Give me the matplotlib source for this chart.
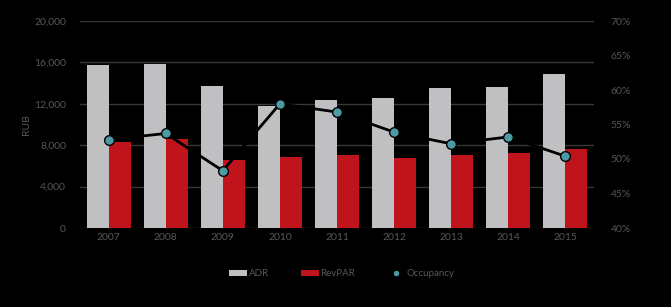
import numpy as np
import matplotlib
matplotlib.use("Agg")
import matplotlib.pyplot as plt
from matplotlib.lines import Line2D

years = ['2007', '2008', '2009', '2010', '2011', '2012', '2013', '2014', '2015']
adr = [15750, 15800, 13700, 11800, 12400, 12550, 13500, 13600, 14900]
revpar = [8300, 8600, 6550, 6850, 7050, 6750, 7050, 7250, 7600]
occupancy = [52.8, 53.7, 48.3, 58.0, 56.8, 53.9, 52.2, 53.2, 50.4]

plt.rcParams['font.family'] = ['Lato', 'DejaVu Sans']
txt = '#575757'

fig = plt.figure(figsize=(6.71, 3.07), dpi=100, facecolor='black')
ax = fig.add_axes([80 / 671, 1 - 228 / 307, 514 / 671, 207 / 307])
ax.set_facecolor('black')

x = np.arange(len(years))
w = 0.385
ax.bar(x - w / 2, adr, w, color='#c0c0c2', label='ADR', zorder=2)
ax.bar(x + w / 2, revpar, w, color='#c0141c', label='RevPAR', zorder=2)

ax.set_xlim(-0.5, len(years) - 0.5)
ax.set_ylim(0, 20000)
ax.set_yticks(range(0, 20001, 4000))
ax.set_yticklabels([f'{v:,}' for v in range(0, 20001, 4000)])
ax.set_xticks(x)
ax.set_xticklabels(years)
ax.grid(axis='y', color='#383838', linewidth=1, zorder=0)
ax.tick_params(colors=txt, labelsize=7.5, length=0)
ax.tick_params(axis='y', pad=10)
for s in ax.spines.values():
    s.set_visible(False)
ax.set_ylabel('RUB', color=txt, fontsize=7.5, labelpad=2)

ax2 = ax.twinx()
ax2.plot(x, occupancy, color='black', linewidth=2, marker='o', markersize=7,
         markerfacecolor='#4b9aa6', markeredgecolor='black', markeredgewidth=1,
         label='Occupancy', zorder=3)
ax2.set_ylim(40, 70)
ax2.set_yticks(range(40, 71, 5))
ax2.set_yticklabels([f'{v}%' for v in range(40, 71, 5)])
ax2.tick_params(colors=txt, labelsize=7.5, length=0, pad=12)
for s in ax2.spines.values():
    s.set_visible(False)

h1, l1 = ax.get_legend_handles_labels()
occ_handle = Line2D([], [], linestyle='none', marker='o', markersize=5,
                    markerfacecolor='#4b9aa6', markeredgecolor='black')
leg = fig.legend(h1 + [occ_handle], l1 + ['Occupancy'], loc='center', ncol=3,
                 bbox_to_anchor=(342 / 671, 1 - 274 / 307), frameon=False,
                 fontsize=7, labelcolor=txt, handlelength=1.8, handleheight=0.5,
                 handletextpad=0.2, columnspacing=3.3)

fig.savefig('out.png', dpi=100, facecolor='black')
